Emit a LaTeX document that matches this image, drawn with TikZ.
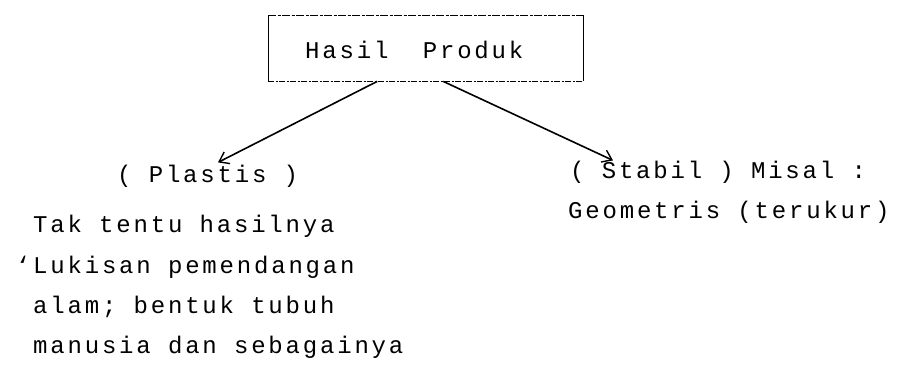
\documentclass[tikz,border=0pt]{standalone}
\usepackage{fontspec}
\usetikzlibrary{arrows.meta}
% monospaced face, spaced out to the pitch of the typed sheet
\newfontfamily\typefont[LetterSpace=11.7]{Liberation Mono}
\tikzset{
  x=1pt, y=-1pt,
  typed/.style={anchor=base west, inner sep=0pt, font=\typefont\fontsize{24}{24}\selectfont, text=black},
  framebox/.style={draw=none, inner sep=0pt, anchor=north west},
  boxrule/.style={line width=1pt, black},
  pointer/.style={line width=1.6pt, black, -{Straight Barb[length=9pt, width=13pt, line width=1.4pt]}},
}
\begin{document}
\begin{tikzpicture}
\useasboundingbox (0,0) rectangle (899,389);

% title frame
\node[framebox, minimum width=315pt, minimum height=66pt] (box) at (268,15) {};
\draw[boxrule, dash pattern=on 8pt off 1.5pt on 3pt off 1.5pt] (box.north west) -- (box.north east);
\draw[boxrule, dash pattern=on 6pt off 1.5pt on 2pt off 1.5pt] (box.south west) -- (box.south east);
\draw[boxrule] (box.north west) -- (box.south west);
\draw[boxrule] (box.north east) -- (box.south east);
\node[typed] (title) at (305,58) {Hasil\ \ Produk};

% left branch
\node[typed] (plastis) at (117,182) {( Plastis )};
\node[typed] (l1) at (33,232) {Tak tentu hasilnya};
\node[typed] (l2) at (15.8,273) {‘Lukisan pemendangan};
\node[typed] (l3) at (33,313) {alam; bentuk tubuh};
\node[typed] (l4) at (33,353) {manusia dan sebagainya};

% right branch
\node[typed] (stabil) at (570,178) {( Stabil ) Misal :};
\node[typed] (r1) at (568,218) {Geometris (terukur)};

% connectors
\draw[pointer] ([xshift=-48.5pt]box.south) -- ([xshift=101pt, yshift=2pt]plastis.north west);
\draw[pointer] ([xshift=17.5pt]box.south) -- ([xshift=43pt]stabil.north west);
\end{tikzpicture}
\end{document}
